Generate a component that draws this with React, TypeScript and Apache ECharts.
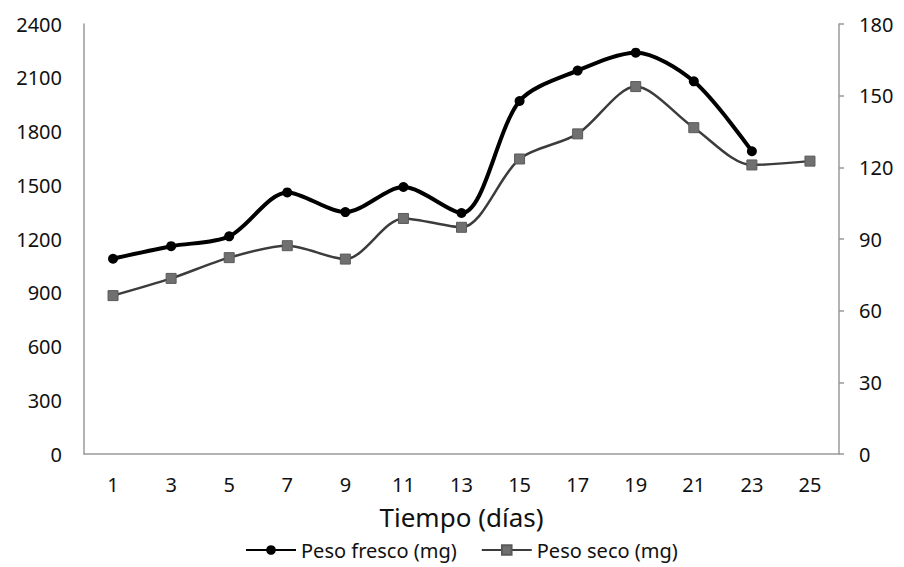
import React, { useEffect, useRef } from "react";
import * as echarts from "echarts";

const days = ["1", "3", "5", "7", "9", "11", "13", "15", "17", "19", "21", "23", "25"];
const pesoFresco = [1090, 1160, 1215, 1460, 1350, 1490, 1345, 1970, 2140, 2240, 2080, 1690, null];
const pesoSeco = [66.3, 73.5, 82.2, 87.2, 81.6, 98.6, 94.9, 123.5, 134, 153.8, 136.6, 121, 122.6];
const leftTicks = { min: 0, max: 2400, interval: 300 };
const rightTicks = { min: 0, max: 180, interval: 30 };

const FONT = "'Noto Sans', 'Open Sans', sans-serif";

export default function App() {
  const ref = useRef<HTMLDivElement>(null);
  useEffect(() => {
    if (!ref.current) return;
    const chart = echarts.init(ref.current, null, { renderer: "svg" });
    const axisLine = { show: true, lineStyle: { color: "#9a9a9a", width: 1.5 } };
    chart.setOption({
      animation: false,
      backgroundColor: "#ffffff",
      textStyle: { fontFamily: FONT },
      grid: { left: 84, right: 65, top: 24, bottom: 113, containLabel: false },
      legend: {
        bottom: 2,
        left: 240,
        itemWidth: 50,
        itemHeight: 12,
        itemGap: 24,
        textStyle: { fontFamily: FONT, fontSize: 20, color: "#111" },
        data: ["Peso fresco (mg)", "Peso seco (mg)"],
      },
      xAxis: {
        type: "category",
        data: days,
        boundaryGap: true,
        axisLine,
        axisTick: { show: false },
        axisLabel: { fontFamily: FONT, fontSize: 20, color: "#111", margin: 20 },
        name: "Tiempo (días)",
        nameLocation: "middle",
        nameGap: 50,
        nameTextStyle: { fontFamily: FONT, fontSize: 26, color: "#111" },
        splitLine: { show: false },
      },
      yAxis: [
        {
          type: "value",
          position: "left",
          ...leftTicks,
          axisLine,
          axisTick: { show: false },
          axisLabel: {
            fontFamily: FONT,
            fontSize: 20,
            color: "#111",
            margin: 22,
            formatter: (v: number) => String(v),
          },
          splitLine: { show: false },
        },
        {
          type: "value",
          position: "right",
          ...rightTicks,
          axisLine,
          axisTick: { show: true, inside: false, length: 5, lineStyle: { color: "#9a9a9a", width: 1.5 } },
          axisLabel: { fontFamily: FONT, fontSize: 20, color: "#111", margin: 20 },
          splitLine: { show: false },
        },
      ],
      series: [
        {
          name: "Peso fresco (mg)",
          type: "line",
          yAxisIndex: 0,
          data: pesoFresco,
          smooth: 0.3,
          symbol: "circle",
          symbolSize: 10,
          lineStyle: { color: "#000000", width: 4 },
          itemStyle: { color: "#000000" },
          z: 3,
        },
        {
          name: "Peso seco (mg)",
          type: "line",
          yAxisIndex: 1,
          data: pesoSeco,
          smooth: 0.3,
          symbol: "rect",
          symbolSize: 10,
          lineStyle: { color: "#3c3c3c", width: 2.5 },
          itemStyle: { color: "#707070", borderColor: "#5a5a5a", borderWidth: 1 },
          z: 2,
        },
      ],
    });
    return () => chart.dispose();
  }, []);
  return (
    <div
      ref={ref}
      style={{ position: "fixed", left: 0, top: 0, width: 904, height: 567, background: "#fff" }}
    />
  );
}
